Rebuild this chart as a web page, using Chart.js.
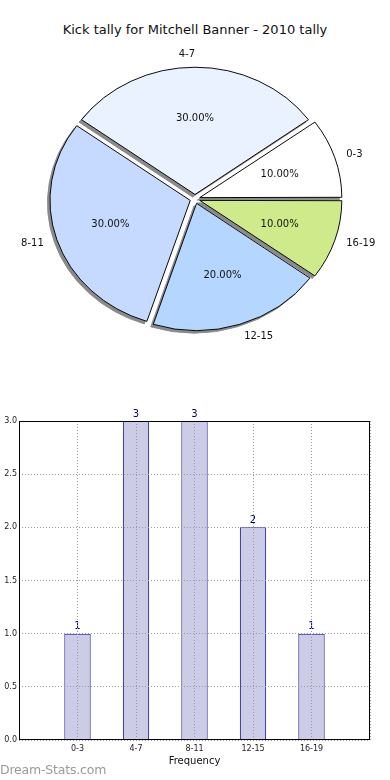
<!DOCTYPE html>
<html>
<head>
<meta charset="utf-8">
<script src="https://cdn.jsdelivr.net/npm/chart.js@4/dist/chart.umd.min.js"></script>
<style>
  html, body { margin:0; padding:0; background:#fff; }
  body { width:390px; height:780px; position:relative; overflow:hidden; font-family:"DejaVu Sans", sans-serif; }
  #title { position:absolute; left:0; top:21px; width:390px; text-align:center; font-size:13px; color:#111; line-height:18px; }
  #pieWrap { position:absolute; left:0; top:0; width:390px; height:390px; }
  #barWrap { position:absolute; left:0; top:390px; width:390px; height:390px; }
  #wm { position:absolute; left:0; top:762px; font-size:12.5px; color:#9a9a9a; letter-spacing:-0.2px; }
</style>
</head>
<body>
<div id="title">Kick tally for Mitchell Banner - 2010 tally</div>
<div id="pieWrap"><canvas id="pie" width="390" height="390"></canvas></div>
<div id="barWrap"><canvas id="bar" width="390" height="390"></canvas></div>
<div id="wm">Dream-Stats.com</div>
<script>
// ---- data ----
const categories = ['0-3', '4-7', '8-11', '12-15', '16-19'];
const kickCounts = [1, 3, 3, 2, 1];
const pieColors = ['#ffffff', '#eaf1ff', '#c6d9ff', '#b4d6ff', '#cfea8b'];
const yTickLabels = ['0.0', '0.5', '1.0', '1.5', '2.0', '2.5', '3.0'];

// ---- pie (matplotlib order: counter-clockwise from 3 o'clock) ----
const pieOrder = [0, 4, 3, 2, 1];
const ELLIPSE = 127 / 140;
const total = kickCounts.reduce((a, b) => a + b, 0);

function ellipseTransform(chart) {
  const ctx = chart.ctx;
  const a = chart.chartArea;
  const cx = (a.left + a.right) / 2, cy = (a.top + a.bottom) / 2;
  ctx.translate(cx, cy);
  ctx.scale(1, ELLIPSE);
  ctx.translate(-cx, -cy);
}

const ellipsePlugin = {
  id: 'ellipse',
  beforeDatasetsDraw(chart) {
    const ctx = chart.ctx;
    const meta = chart.getDatasetMeta(0);
    // shadows first (all below the wedges)
    meta.data.forEach(arc => {
      const orig = arc.options;
      arc.options = Object.assign({}, orig, { backgroundColor: '#8a8a8a', borderColor: '#8a8a8a' });
      ctx.save();
      ctx.translate(-2.5, 2.5);
      ellipseTransform(chart);
      arc.draw(ctx);
      ctx.restore();
      arc.options = orig;
    });
    ctx.save();
    ellipseTransform(chart);
  },
  afterDatasetsDraw(chart) {
    const ctx = chart.ctx;
    ctx.restore();
    const meta = chart.getDatasetMeta(0);
    ctx.save();
    ctx.fillStyle = '#111';
    ctx.font = '10px "DejaVu Sans"';
    ctx.textBaseline = 'middle';
    const a = chart.chartArea;
    const cx = (a.left + a.right) / 2, cy = (a.top + a.bottom) / 2;
    meta.data.forEach((arc, i) => {
      const idx = pieOrder[i];
      const mid = (arc.startAngle + arc.endAngle) / 2;
      const R = arc.outerRadius;
      const d = (arc.options.offset || 0) / 4;
      const c = Math.cos(mid), s = Math.sin(mid);
      const lx = cx + (1.1 * R + d) * c;
      const ly = cy + (1.1 * R + d) * s * ELLIPSE;
      ctx.textAlign = c > 0.01 ? 'left' : 'right';
      ctx.fillText(categories[idx], lx, ly);
      const px = cx + (0.6 * R + d) * c;
      const py = cy + (0.6 * R + d) * s * ELLIPSE;
      ctx.textAlign = 'center';
      ctx.fillText((kickCounts[idx] / total * 100).toFixed(2) + '%', px, py);
    });
    ctx.restore();
  }
};

new Chart(document.getElementById('pie'), {
  type: 'pie',
  data: {
    labels: pieOrder.map(i => categories[i]),
    datasets: [{
      data: pieOrder.map(i => kickCounts[i]),
      backgroundColor: pieOrder.map(i => pieColors[i]),
      borderColor: '#000',
      borderWidth: 1,
      offset: 20,
      hoverOffset: 0,
      clip: false
    }]
  },
  options: {
    responsive: false,
    animation: false,
    rotation: 54,
    radius: 140,
    layout: { padding: { top: 8 } },
    plugins: { legend: { display: false }, tooltip: { enabled: false } },
    events: []
  },
  plugins: [ellipsePlugin]
});

// ---- bar chart ----
const boxPlugin = {
  id: 'box',
  afterDraw(chart) {
    const a = chart.chartArea, ctx = chart.ctx;
    ctx.save();
    ctx.strokeStyle = '#000';
    ctx.lineWidth = 1;
    ctx.strokeRect(Math.round(a.left) + 0.5, Math.round(a.top) + 0.5, Math.round(a.right - a.left) - 1, Math.round(a.bottom - a.top) - 1);
    ctx.restore();
  }
};
const valueLabels = {
  id: 'valueLabels',
  afterDatasetsDraw(chart) {
    const ctx = chart.ctx;
    const meta = chart.getDatasetMeta(0);
    ctx.save();
    ctx.fillStyle = '#00007a';
    ctx.font = '10px "DejaVu Sans"';
    ctx.textAlign = 'center';
    ctx.textBaseline = 'bottom';
    meta.data.forEach((bar, i) => {
      ctx.fillText(String(kickCounts[i]), bar.x, bar.y - 2);
    });
    ctx.restore();
  }
};

new Chart(document.getElementById('bar'), {
  type: 'bar',
  data: {
    datasets: [{
      data: kickCounts.map((v, i) => ({ x: i, y: v })),
      backgroundColor: '#ccccE6',
      borderColor: '#00008b',
      borderWidth: 1,
      categoryPercentage: 1,
      barPercentage: 0.45
    }]
  },
  options: {
    responsive: false,
    animation: false,
    events: [],
    layout: { padding: { top: 31, right: 20, left: 0, bottom: 0 } },
    plugins: { legend: { display: false }, tooltip: { enabled: false } },
    scales: {
      x: {
        type: 'linear',
        offset: false,
        min: -1, max: 5,
        afterFit(s) { s.height = 40; },
        afterBuildTicks(s) { s.ticks = [-1, 0, 1, 2, 3, 4, 5].map(v => ({ value: v })); },
        ticks: {
          autoSkip: false, maxRotation: 0, padding: 4,
          font: { family: 'DejaVu Sans', size: 8 }, color: '#222',
          callback: (v) => categories[v] !== undefined ? categories[v] : ''
        },
        grid: { color: '#9a9a9a', lineWidth: 1, drawTicks: false, z: 1, offset: false },
        border: { display: false, dash: [1, 2] },
        title: { display: true, text: 'Frequency', font: { family: 'DejaVu Sans', size: 10 }, color: '#111', padding: { top: 0, bottom: 13 } }
      },
      y: {
        min: 0, max: 3,
        afterFit(s) { s.width = 19; },
        afterBuildTicks(s) { s.ticks = yTickLabels.map(t => ({ value: parseFloat(t) })); },
        ticks: {
          padding: 2,
          font: { family: 'DejaVu Sans', size: 8 }, color: '#222',
          callback: (v) => yTickLabels.find(t => parseFloat(t) === v)
        },
        grid: { color: '#9a9a9a', lineWidth: 1, drawTicks: false, z: 1 },
        border: { display: false, dash: [1, 2] }
      }
    }
  },
  plugins: [valueLabels, boxPlugin]
});
</script>
</body>
</html>
